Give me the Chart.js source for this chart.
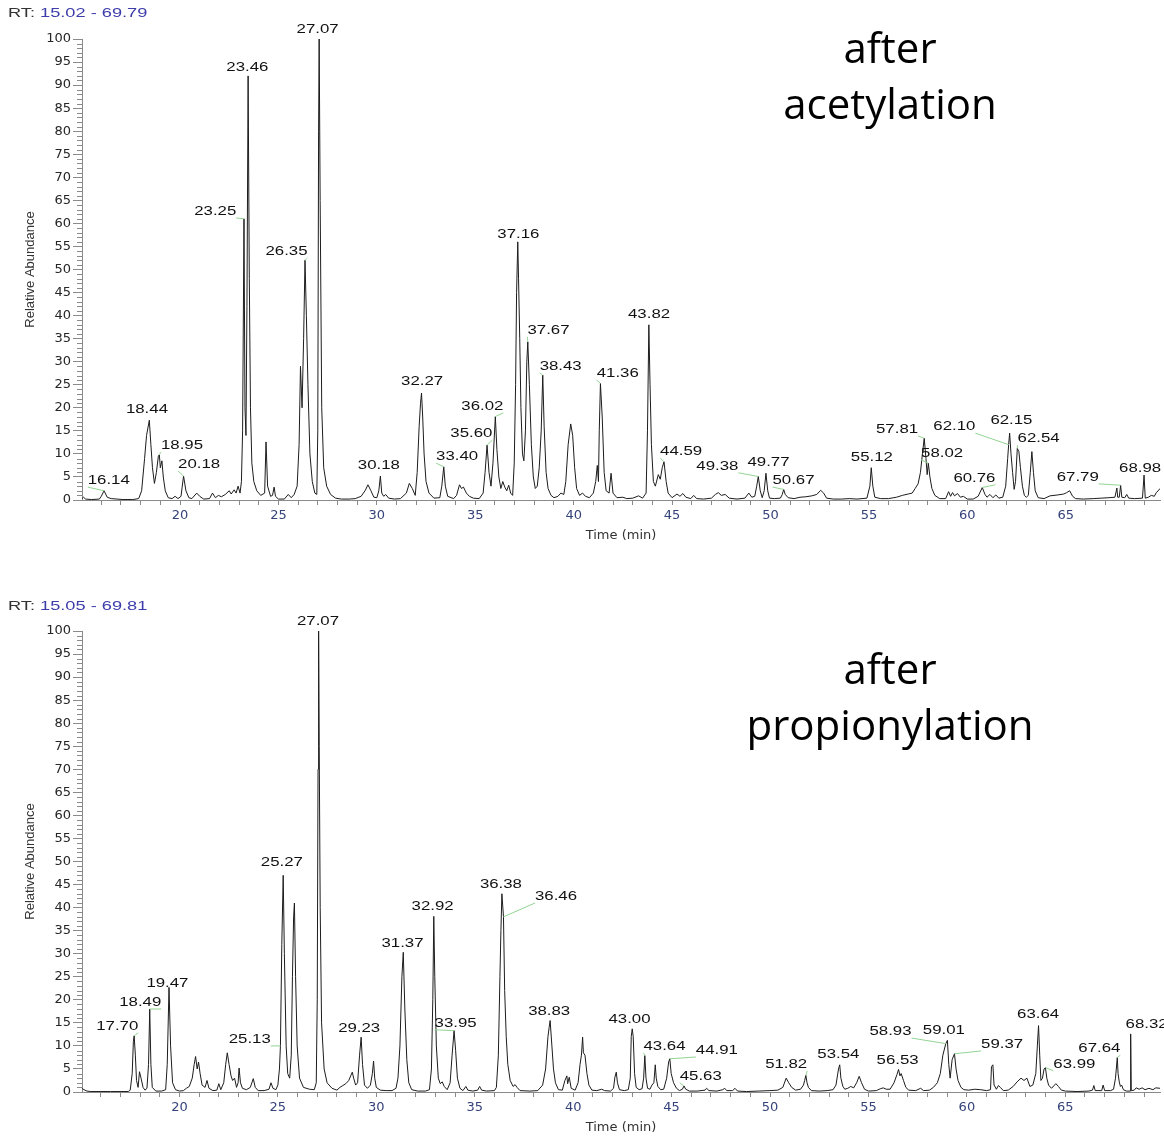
<!DOCTYPE html>
<html>
<head>
<meta charset="utf-8">
<script src="https://cdn.jsdelivr.net/npm/chart.js@4.4.1/dist/chart.umd.min.js"></script>
<style>
  body { margin: 0; width: 1164px; height: 1137px; background: #fff; overflow: hidden; position: relative; }
  .panel { position: absolute; left: 0; width: 1164px; height: 545px; }
  .rt { position: absolute; left: 8px; font: 13px "Liberation Sans", Arial, sans-serif; color: #333;
        transform: scaleX(1.4); transform-origin: left center; white-space: nowrap; }
  .rt span { color: #3c3caa; }
  .note { position: absolute; left: 690px; width: 400px; text-align: center; font: 42px "Open Sans", sans-serif;
          line-height: 56px; color: #000; }
</style>
</head>
<body>
<div class="panel" style="top:0px"><canvas id="chart1"></canvas></div>
<div class="panel" style="top:592px"><canvas id="chart2"></canvas></div>
<div class="rt" style="top:5px">RT: <span>15.02 - 69.79</span></div>
<div class="rt" style="top:598px">RT: <span>15.05 - 69.81</span></div>
<div class="note" style="top:19px">after<br>acetylation</div>
<div class="note" style="top:640px">after<br>propionylation</div>

<script>
// ---- data: [time (min), relative abundance] ----
const acetylRange = [15.02, 69.79];
const acetylTrace = [
  [15.02,0.3],[15.1,0.6],[15.2,0.2],[15.5,0.1],[15.9,0.2],[16.0,0.8],[16.14,2.0],[16.3,0.6],[16.5,0.3],[16.8,0.2],
  [17.1,0.1],[17.6,0.1],[17.9,0.3],[18.05,2],[18.2,9],[18.3,14],[18.44,17.3],[18.52,12],[18.6,7],[18.7,3.6],
  [18.8,6],[18.9,9.5],[18.95,9.8],[19.0,7],[19.08,8.5],[19.15,5],[19.25,2],[19.4,0.5],[19.6,0.3],[19.75,0.8],
  [19.9,0.3],[20.05,0.8],[20.18,5.2],[20.3,2],[20.45,0.5],[20.6,0.3],[20.85,1.5],[21.0,0.8],[21.2,0.2],[21.5,0.3],
  [21.65,1.5],[21.8,0.5],[21.95,1.0],[22.1,0.7],[22.3,1.2],[22.5,2.0],[22.6,1.3],[22.75,2.2],[22.85,1.5],[22.95,3.0],
  [23.05,1.5],[23.12,4],[23.18,15],[23.25,61],[23.3,20],[23.35,14],[23.4,42],[23.46,92],[23.52,48],[23.58,20],
  [23.65,8],[23.75,4],[23.9,2],[24.1,1],[24.3,1.5],[24.37,12.6],[24.45,3],[24.6,0.8],[24.7,1],[24.78,2.8],
  [24.85,0.8],[25.0,0.2],[25.3,0.2],[25.5,1.2],[25.65,0.5],[25.8,1.2],[25.95,3],[26.05,12],[26.12,29],[26.2,20],
  [26.28,35],[26.35,52],[26.42,40],[26.5,25],[26.6,10],[26.72,4],[26.85,1.5],[26.95,1.2],[27.0,15],[27.04,80],
  [27.07,100],[27.12,65],[27.2,20],[27.3,7],[27.45,3],[27.65,1.2],[27.9,0.4],[28.2,0.2],[28.6,0.2],[28.9,0.3],
  [29.2,0.8],[29.4,2],[29.55,3.3],[29.7,2],[29.85,0.6],[30.0,0.5],[30.1,2],[30.18,5.2],[30.25,1.5],[30.35,0.8],
  [30.45,1.2],[30.6,0.4],[30.9,0.2],[31.2,0.3],[31.5,1.5],[31.65,3.6],[31.8,2.5],[31.95,1],[32.05,6],[32.15,16],
  [32.22,21],[32.27,23.2],[32.33,18],[32.4,10],[32.5,4],[32.65,1.5],[32.9,0.4],[33.2,0.5],[33.3,3],[33.4,7.2],
  [33.48,3],[33.6,0.8],[33.9,0.3],[34.05,1],[34.2,3.3],[34.3,2.5],[34.4,2.8],[34.55,1.5],[34.7,0.8],[34.9,0.4],
  [35.2,0.3],[35.4,1.5],[35.5,6],[35.6,11.9],[35.7,6],[35.8,3],[35.9,8],[36.02,18.1],[36.1,11],[36.2,5],
  [36.3,2.5],[36.4,4],[36.5,2.8],[36.6,2],[36.7,3.2],[36.8,1.5],[36.9,1],[36.98,8],[37.05,25],[37.1,45],
  [37.16,56],[37.2,48],[37.26,35],[37.32,20],[37.4,10],[37.47,8.5],[37.55,15],[37.62,30],[37.67,34.3],[37.75,25],
  [37.85,12],[37.95,5],[38.05,2.5],[38.15,3],[38.25,7],[38.35,15],[38.43,27.1],[38.5,16],[38.6,6],[38.7,2.5],
  [38.85,1],[39.0,0.5],[39.2,0.8],[39.35,1.5],[39.5,1.2],[39.6,4],[39.72,12],[39.85,16.5],[39.95,14],[40.05,7],
  [40.15,2.5],[40.3,1],[40.45,1.5],[40.6,0.8],[40.8,0.5],[41.0,1.5],[41.12,4],[41.2,7.5],[41.26,4],[41.3,15],
  [41.36,25.3],[41.45,18],[41.55,6],[41.65,2],[41.8,1.5],[41.9,5.8],[42.0,1.5],[42.2,0.5],[42.5,0.6],[42.7,0.3],
  [43.0,0.4],[43.3,0.9],[43.5,0.4],[43.68,1.5],[43.75,15],[43.82,38],[43.88,25],[43.95,12],[44.05,4],[44.15,3],
  [44.3,5.5],[44.4,4.5],[44.5,7],[44.59,8.3],[44.7,4],[44.8,1.5],[45.0,0.5],[45.25,1.3],[45.4,0.8],[45.55,1.4],
  [45.7,0.6],[45.95,0.3],[46.1,1],[46.25,0.3],[46.6,0.2],[47.0,0.4],[47.2,1.2],[47.35,1.6],[47.5,1.0],[47.7,1.2],
  [47.9,0.4],[48.3,0.2],[48.7,0.4],[48.9,1.5],[49.05,0.6],[49.2,0.8],[49.3,3],[49.38,5.1],[49.48,2],[49.58,0.5],
  [49.68,2],[49.77,5.8],[49.86,2],[49.95,0.4],[50.2,0.3],[50.5,0.4],[50.6,1.2],[50.67,2.3],[50.75,1.2],[50.9,0.5],
  [51.2,0.3],[51.5,0.6],[51.8,0.7],[52.1,0.9],[52.35,1.2],[52.55,2.1],[52.7,1.5],[52.85,0.4],[53.2,0.2],[53.6,0.2],
  [54.0,0.3],[54.4,0.2],[54.9,0.4],[55.05,3],[55.12,7],[55.2,3],[55.3,0.6],[55.6,0.3],[56.0,0.3],[56.4,0.6],
  [56.7,1.0],[57.0,1.3],[57.2,1.5],[57.35,2.5],[57.5,3.5],[57.62,6],[57.72,10],[57.81,13.4],[57.9,9],[57.96,5.5],
  [58.02,8],[58.1,5],[58.2,2.5],[58.35,1],[58.6,0.3],[58.9,0.3],[59.05,1.8],[59.15,0.8],[59.25,1.6],[59.35,0.9],
  [59.5,1.4],[59.65,0.6],[59.8,0.8],[60.0,0.2],[60.3,0.2],[60.55,0.8],[60.76,2.7],[60.9,1.2],[61.0,0.6],[61.15,1.2],
  [61.3,0.5],[61.45,1.1],[61.6,0.4],[61.8,0.6],[61.95,3],[62.05,9],[62.1,12],[62.15,14.5],[62.22,10],[62.3,6],
  [62.38,2.3],[62.45,4],[62.54,11.2],[62.62,10.5],[62.7,7],[62.8,3],[62.9,1],[63.0,0.6],[63.1,1],[63.2,6],
  [63.28,10.5],[63.36,6],[63.45,2],[63.6,0.5],[63.9,0.3],[64.2,0.9],[64.6,1.1],[64.9,1.3],[65.05,1.6],[65.2,2.0],
  [65.35,0.8],[65.5,0.3],[65.9,0.2],[66.4,0.3],[66.8,0.4],[67.2,0.5],[67.5,0.6],[67.6,2.6],[67.64,0.6],[67.72,0.6],
  [67.79,3.2],[67.85,0.6],[68.0,0.5],[68.1,1.2],[68.2,0.4],[68.5,0.3],[68.9,0.4],[68.98,5.4],[69.04,0.4],[69.2,0.6],
  [69.35,1.0],[69.5,0.8],[69.6,1.6],[69.7,2.0],[69.79,2.5]
];
const acetylPeaks = ['16.14','18.44','18.95','20.18','23.25','23.46','26.35','27.07','30.18','32.27','33.40',
  '35.60','36.02','37.16','37.67','38.43','41.36','43.82','44.59','49.38','49.77','50.67','55.12','57.81',
  '58.02','60.76','62.10','62.15','62.54','67.79','68.98'];

const propionylRange = [15.05, 69.81];
const propionylTrace = [
  [15.05,0.8],[15.15,0.5],[15.3,0.2],[15.5,0.1],[16.5,0.1],[17.4,0.1],[17.5,0.4],[17.6,4],[17.66,11],[17.7,12.2],
  [17.76,8],[17.82,2.5],[17.9,1],[17.97,4.4],[18.05,3],[18.15,1],[18.25,0.4],[18.35,0.8],[18.43,6],[18.49,18],
  [18.55,6],[18.62,1],[18.8,0.2],[19.1,0.2],[19.3,0.5],[19.38,6],[19.47,22.7],[19.55,10],[19.65,2],[19.8,0.5],
  [20.0,0.2],[20.2,0.3],[20.35,0.8],[20.5,1.2],[20.65,3],[20.75,6],[20.82,7.7],[20.9,5],[20.97,6.5],[21.05,4],
  [21.15,1.5],[21.3,1],[21.4,2.5],[21.5,0.8],[21.7,0.3],[21.9,0.4],[22.0,1.8],[22.1,0.5],[22.25,2],[22.35,6],
  [22.43,8.5],[22.52,6],[22.62,3.5],[22.7,2.5],[22.8,3],[22.9,1],[22.98,2],[23.03,5.2],[23.1,2],[23.2,0.8],
  [23.4,0.5],[23.6,1],[23.75,2.9],[23.85,1],[24.0,0.3],[24.3,0.3],[24.55,0.6],[24.65,2],[24.75,0.8],[24.9,0.5],
  [25.0,1.5],[25.08,5],[25.13,10],[25.2,32],[25.27,47],[25.33,30],[25.42,10],[25.5,4],[25.6,3],[25.68,8],
  [25.74,25],[25.8,38],[25.84,41],[25.9,25],[25.98,10],[26.1,3],[26.3,1],[26.6,0.6],[26.85,0.5],[26.95,2],
  [27.0,20],[27.04,70],[27.07,100],[27.1,75],[27.15,40],[27.22,15],[27.35,5],[27.5,2],[27.75,0.8],[28.0,0.4],
  [28.15,1],[28.3,1.4],[28.45,1.8],[28.6,2.5],[28.7,3.5],[28.78,4.3],[28.85,3],[28.95,1.5],[29.05,2],[29.15,8],
  [29.23,11.9],[29.3,6],[29.4,1.5],[29.55,0.8],[29.7,1.5],[29.8,4],[29.86,6.7],[29.92,3],[30.0,1],[30.2,0.4],
  [30.5,0.3],[30.8,0.3],[31.0,0.8],[31.1,3],[31.2,10],[31.3,25],[31.37,30.3],[31.45,18],[31.55,7],[31.65,2],
  [31.8,0.5],[32.1,0.2],[32.5,0.2],[32.7,0.5],[32.8,5],[32.87,20],[32.92,38.1],[32.97,25],[33.05,10],[33.15,3],
  [33.25,1.8],[33.35,2.2],[33.45,1.2],[33.6,0.5],[33.75,2],[33.85,8],[33.95,13.3],[34.03,9],[34.12,3],[34.25,0.8],
  [34.4,0.3],[34.55,1.2],[34.65,0.4],[34.9,0.2],[35.15,0.4],[35.25,1.2],[35.35,0.4],[35.6,0.2],[36.0,0.3],[36.1,1],
  [36.2,8],[36.28,25],[36.33,35],[36.38,43],[36.46,38],[36.52,22],[36.6,12],[36.68,6],[36.8,2.5],[36.95,1.2],
  [37.05,1.6],[37.15,1],[37.3,0.3],[37.8,0.2],[38.2,0.3],[38.45,1.5],[38.6,5],[38.72,12],[38.78,14],[38.83,15.5],
  [38.92,10],[39.0,5],[39.1,2],[39.25,0.5],[39.45,0.4],[39.58,2.5],[39.68,3.5],[39.72,1.8],[39.8,3.2],[39.9,0.8],
  [40.1,0.4],[40.25,2],[40.35,6],[40.42,8],[40.48,11.9],[40.52,8.5],[40.6,8],[40.7,4],[40.8,1.5],[40.95,0.4],
  [41.2,0.3],[41.45,0.6],[41.6,0.3],[41.9,0.2],[42.05,0.8],[42.12,3.2],[42.19,4.3],[42.25,2],[42.35,0.5],[42.6,0.3],
  [42.8,0.5],[42.9,3],[42.95,12],[43.0,13.7],[43.05,12],[43.12,4],[43.2,1],[43.35,0.5],[43.5,0.7],[43.58,3],
  [43.64,7.9],[43.7,3],[43.78,0.8],[43.9,0.6],[44.0,1.5],[44.1,2],[44.17,5.9],[44.22,3],[44.3,1.2],[44.45,0.5],
  [44.6,0.6],[44.75,3],[44.85,6.5],[44.91,7.2],[44.98,4],[45.1,2],[45.25,0.8],[45.4,0.3],[45.55,0.6],[45.63,1.3],
  [45.72,0.6],[45.9,0.2],[46.3,0.2],[46.7,0.4],[46.78,0.8],[46.9,0.3],[47.3,0.2],[47.6,0.5],[47.7,0.8],[47.8,0.3],
  [48.1,0.3],[48.22,0.8],[48.35,0.2],[48.8,0.1],[49.4,0.2],[50.0,0.3],[50.4,0.4],[50.65,1],[50.82,3],[50.95,2],
  [51.1,1],[51.3,0.4],[51.55,0.6],[51.7,1.5],[51.76,2.5],[51.82,3.6],[51.88,2],[51.95,1],[52.1,0.3],[52.5,0.2],
  [52.9,0.3],[53.2,0.5],[53.35,1.5],[53.48,5],[53.54,5.9],[53.6,3],[53.7,1.2],[53.8,0.6],[53.95,0.8],[54.1,1.2],
  [54.25,0.9],[54.4,2],[54.53,3.4],[54.65,2],[54.8,0.6],[55.0,0.2],[55.4,0.3],[55.6,0.7],[55.75,0.9],[55.9,0.6],
  [56.1,0.6],[56.3,2],[56.45,3.8],[56.53,4.9],[56.6,3.5],[56.66,4],[56.78,2.5],[56.9,1],[57.05,0.4],[57.4,0.3],
  [57.65,0.8],[57.8,0.3],[58.1,0.4],[58.3,1],[58.5,2],[58.65,4],[58.78,8],[58.93,10.5],[59.01,11.2],[59.08,6],
  [59.15,3],[59.25,7],[59.37,8.3],[59.45,5],[59.55,2.5],[59.7,1],[59.85,0.5],[60.1,0.4],[60.4,0.6],[60.7,0.5],
  [61.0,0.3],[61.2,0.5],[61.25,5.5],[61.32,5.9],[61.38,1.5],[61.5,0.6],[61.6,1.4],[61.7,1],[61.85,0.3],[62.1,0.4],
  [62.35,1.2],[62.55,2.2],[62.75,3],[62.9,2.5],[63.05,3],[63.2,1.2],[63.35,1.5],[63.5,4],[63.58,10],[63.64,14.4],
  [63.7,8],[63.76,2.5],[63.84,3],[63.92,5],[63.99,5.3],[64.06,3],[64.15,1.5],[64.3,0.8],[64.45,1.5],[64.52,1.8],
  [64.65,1.2],[64.8,0.4],[65.0,0.2],[65.6,0.1],[66.2,0.2],[66.38,0.4],[66.45,1.4],[66.52,0.3],[66.85,0.3],[66.92,1.5],
  [67.0,0.3],[67.3,0.3],[67.45,0.6],[67.55,3],[67.64,7.5],[67.68,4],[67.74,2.2],[67.8,1.2],[67.86,1.5],[67.95,0.5],
  [68.1,0.2],[68.3,0.2],[68.32,12.6],[68.35,0.3],[68.5,0.4],[68.6,0.9],[68.75,0.6],[68.9,0.9],[69.05,0.5],[69.25,0.8],
  [69.45,0.5],[69.6,0.9],[69.81,0.8]
];
const propionylPeaks = ['17.70','18.49','19.47','25.13','25.27','27.07','29.23','31.37','32.92','33.95','36.38',
  '36.46','38.83','43.00','43.64','44.91','45.63','51.82','53.54','56.53','58.93','59.01','59.37','63.64',
  '63.99','67.64','68.32'];

// ---- where each peak label sits (time, abundance) and which end its green leader starts from ----
const acetylLabelX = [16.38,18.32,20.1,20.97,21.79,23.42,25.41,26.99,30.1,32.3,34.08,34.8,35.36,37.19,38.72,
  39.34,42.24,43.83,45.46,47.3,49.9,51.17,55.15,56.43,58.72,60.36,59.34,62.24,63.62,65.61,68.78];
const acetylLabelY = [4.1,19.5,11.7,7.6,62.5,93.7,53.8,102,7.4,25.6,9.3,14.3,20.2,57.5,36.7,28.9,27.3,40.3,
  10.4,7.2,8.0,4.1,9.1,15.2,10,4.6,15.8,17.1,13.2,4.8,6.7];
const acetylLeader = ['l','','l','l','r','','r','','','','l','r','r','','l','l','l','','l','r','','l','',
  'r','l','r','r','','l','r',''];

const propionylLabelX = [16.84,18.01,19.39,23.57,25.2,27.04,29.13,31.33,32.86,34.03,36.33,39.13,38.78,42.86,
  44.64,47.3,46.48,50.82,53.47,56.48,56.12,58.83,61.79,63.62,65.46,66.73,69.13];
const propionylLabelY = [14.1,19.3,23.4,11.3,49.7,102,13.7,32.1,40.1,14.8,44.9,42.3,17.4,15.6,9.8,8.9,3.3,
  5.9,8.0,6.9,13.0,13.4,10.2,16.7,5.9,9.3,14.5];
const propionylLeader = ['r','r','','r','','','','','','l','','l','','','l','l','l','r','','','r','','l','',
  'l','r',''];

const STRETCH = 1.4;

const yMinorTicks = {
    id: 'yMinorTicks',
    afterDraw(chart) {
        const ctx = chart.ctx;
        const y = chart.scales.y;
        ctx.save();
        ctx.strokeStyle = '#8a8a8a';
        ctx.lineWidth = 1;
        for (let v = 0; v <= 100; v++) {
            if (v % 5 === 0) continue;
            const py = Math.round(y.getPixelForValue(v)) + 0.5;
            ctx.beginPath();
            ctx.moveTo(y.right - 5, py);
            ctx.lineTo(y.right, py);
            ctx.stroke();
        }
        ctx.restore();
    }
};

const peakLabels = {
    id: 'peakLabels',
    afterDatasetsDraw(chart, args, opts) {
        const ctx = chart.ctx;
        const x = chart.scales.x, y = chart.scales.y;
        ctx.save();
        ctx.font = '12px "Liberation Sans", Arial, sans-serif';
        ctx.textBaseline = 'middle';
        ctx.textAlign = 'center';
        opts.names.forEach(function (txt, i) {
            const cx = x.getPixelForValue(opts.lx[i]);
            const cy = y.getPixelForValue(opts.ly[i]);
            const w = ctx.measureText(txt).width * STRETCH;
            const rt = parseFloat(txt);
            const apex = opts.trace.find(p => Math.abs(p[0] - rt) < 1e-6);
            if (opts.leader[i] && apex) {
                const sx = opts.leader[i] === 'l' ? cx - w / 2 : cx + w / 2;
                ctx.strokeStyle = '#92d492';
                ctx.lineWidth = 1;
                ctx.beginPath();
                ctx.moveTo(sx, cy + 6);
                ctx.lineTo(x.getPixelForValue(apex[0]), y.getPixelForValue(apex[1]));
                ctx.stroke();
            }
            ctx.save();
            ctx.translate(cx, cy);
            ctx.scale(STRETCH, 1);
            ctx.fillStyle = '#111';
            ctx.fillText(txt, 0, 0);
            ctx.restore();
        });
        ctx.restore();
    }
};

function show_chromatogram(canvasId, range, trace, names, lx, ly, leader) {
    const config = {
        type: 'scatter',
        data: {
            datasets: [{
                data: trace.map(p => ({x: p[0], y: p[1]})),
                showLine: true,
                borderColor: '#1c1c1c',
                borderWidth: 1,
                pointRadius: 0,
                tension: 0
            }]
        },
        options: {
            responsive: true,
            maintainAspectRatio: false,
            animation: false,
            layout: {padding: {top: 39, right: 4, bottom: 0, left: 0}},
            scales: {
                x: {
                    type: 'linear',
                    min: range[0],
                    max: range[1],
                    border: {color: '#8a8a8a'},
                    grid: {drawOnChartArea: false, tickLength: 5, color: '#8a8a8a'},
                    afterBuildTicks: function (axis) {
                        const t = [];
                        for (let v = Math.ceil(range[0]); v <= Math.floor(range[1]); v++) t.push({value: v});
                        axis.ticks = t;
                    },
                    ticks: {
                        autoSkip: false,
                        maxRotation: 0,
                        padding: 3,
                        color: '#34437a',
                        font: {family: 'DejaVu Sans', size: 13},
                        callback: v => (v % 5 === 0 ? v : '')
                    },
                    title: {
                        display: true,
                        text: 'Time (min)',
                        color: '#333',
                        font: {family: 'DejaVu Sans', size: 13},
                        padding: {top: 0, bottom: 2}
                    },
                    afterFit: s => { s.height = 45; }
                },
                y: {
                    min: 0,
                    max: 100,
                    border: {color: '#8a8a8a'},
                    grid: {drawOnChartArea: false, tickLength: 9, color: '#8a8a8a'},
                    ticks: {
                        stepSize: 5,
                        padding: 2,
                        color: '#262626',
                        font: {family: 'DejaVu Sans', size: 13}
                    },
                    title: {
                        display: true,
                        text: 'Relative Abundance',
                        color: '#333',
                        font: {family: 'Liberation Sans', size: 13},
                        padding: {top: 23, bottom: 0}
                    },
                    afterFit: s => { s.width = 82; }
                }
            },
            plugins: {
                legend: {display: false},
                tooltip: {enabled: false},
                peakLabels: {names: names, lx: lx, ly: ly, leader: leader, trace: trace}
            }
        },
        plugins: [yMinorTicks, peakLabels]
    };

    return new Chart(document.getElementById(canvasId), config);
}

show_chromatogram('chart1', acetylRange, acetylTrace, acetylPeaks, acetylLabelX, acetylLabelY, acetylLeader);
show_chromatogram('chart2', propionylRange, propionylTrace, propionylPeaks, propionylLabelX, propionylLabelY, propionylLeader);
</script>
</body>
</html>
